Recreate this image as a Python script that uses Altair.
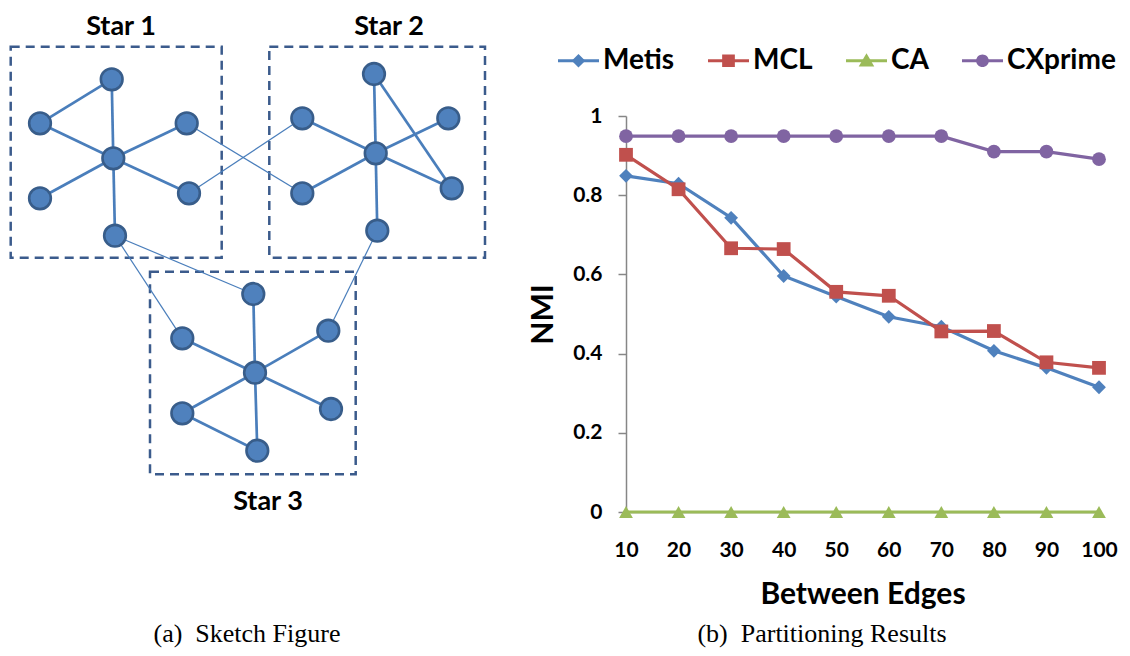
import altair as alt
import pandas as pd

# ---------------- chart (b) data ----------------
between_edges = [10, 20, 30, 40, 50, 60, 70, 80, 90, 100]
series_names = ["Metis", "MCL", "CA", "CXprime"]
metis = [0.849, 0.829, 0.743, 0.596, 0.544, 0.493, 0.468, 0.407, 0.364, 0.315]
mcl = [0.902, 0.815, 0.666, 0.664, 0.556, 0.546, 0.456, 0.457, 0.378, 0.364]
ca = [0, 0, 0, 0, 0, 0, 0, 0, 0, 0]
cxprime = [0.949, 0.949, 0.949, 0.949, 0.949, 0.949, 0.949, 0.910, 0.910, 0.891]
series_colors = ["#4F81BD", "#C0504D", "#9BBB59", "#8064A2"]
series_shapes = ["diamond", "square", "triangle-up", "circle"]
y_ticks = [0, 0.2, 0.4, 0.6, 0.8, 1]

# ---------------- sketch (a) data: graph layout (page pixels) ----------------
node_ids = ["A", "B", "C", "D", "E", "F", "G",
            "H", "I", "J", "K", "L", "M", "N",
            "O", "P", "Q", "R", "S", "T", "U"]
node_x = [111.7, 40.0, 113.3, 186.7, 40.0, 189.0, 115.0,
          374.0, 302.3, 375.7, 448.3, 302.3, 451.7, 377.3,
          253.3, 182.3, 255.0, 328.3, 182.3, 331.0, 257.3]
node_y = [79.3, 123.3, 158.3, 123.3, 198.3, 193.3, 235.7,
          74.0, 118.3, 153.3, 118.3, 193.3, 188.3, 230.7,
          294.0, 338.3, 372.7, 330.7, 413.3, 409.0, 450.7]
edge_from = ["B", "B", "A", "C", "C", "C", "C",
             "H", "H", "I", "J", "J", "J", "J",
             "O", "P", "Q", "Q", "Q", "Q", "S",
             "D", "F", "G", "G", "N"]
edge_to = ["A", "C", "C", "D", "E", "F", "G",
           "J", "M", "J", "K", "L", "M", "N",
           "Q", "Q", "R", "S", "T", "U", "U",
           "L", "I", "O", "P", "R"]
edge_kind = ["intra"] * 21 + ["between"] * 5
box_x0 = [10.7, 269.3, 150.0]
box_x1 = [221.7, 485.0, 355.7]
box_y0 = [46.7, 46.7, 271.7]
box_y1 = [257.7, 257.7, 474.3]
star_labels = ["Star 1", "Star 2", "Star 3"]
star_label_x = [121, 389, 268]
star_label_y = [35, 35, 510]
captions = ["(a)\u2002Sketch Figure", "(b)\u2002Partitioning Results"]
caption_x = [247, 822]
caption_y = [642, 642]

# ---------------- layout ----------------
PAGE_W, PAGE_H = 1130, 656
LEFT, TOP = 626, 116          # page position of the plot origin
W, H = 473, 396               # plot area
MARGIN = 8
TOTAL_W, TOTAL_H = 1114, 640
pad = {"left": LEFT - MARGIN, "top": TOP - MARGIN,
       "right": TOTAL_W - (LEFT - MARGIN) - W,
       "bottom": TOTAL_H - (TOP - MARGIN) - H}

BOLD = "Lato"

# ---------------- line chart ----------------
df = pd.DataFrame({
    "edges": between_edges * 4,
    "series": sum([[s] * len(between_edges) for s in series_names], []),
    "nmi": metis + mcl + ca + cxprime,
})

x_enc = alt.X("edges:Q",
              scale=alt.Scale(domain=[10, 100], nice=False, zero=False),
              axis=alt.Axis(values=between_edges, format="d", title="Between Edges",
                            grid=False, ticks=False, domainColor="#868686", domainWidth=1.5,
                            labelFont=BOLD, labelFontSize=21, labelFontWeight="bold",
                            labelColor="#000000", labelPadding=27, labelAngle=0,
                            labelFlush=False, labelOverlap=False, labelBound=False,
                            titleFont=BOLD, titleFontSize=30, titleFontWeight="bold",
                            titleColor="#000000", titleX=W / 2, titleY=91,
                            titleBaseline="alphabetic", titleAlign="center"))
y_enc = alt.Y("nmi:Q",
              scale=alt.Scale(domain=[0, 1], nice=False),
              axis=alt.Axis(values=y_ticks, format="~g", title="NMI", grid=False,
                            domainColor="#868686", domainWidth=1.5,
                            tickColor="#868686", tickWidth=1.5, tickSize=8,
                            labelFont=BOLD, labelFontSize=21, labelFontWeight="bold",
                            labelColor="#000000", labelPadding=16,
                            labelFlush=False, labelOverlap=False,
                            titleFont=BOLD, titleFontSize=30, titleFontWeight="bold",
                            titleColor="#000000", titleAngle=270, titleX=-74, titleY=198,
                            titleBaseline="alphabetic", titleAlign="center"))
color_enc = alt.Color("series:N", scale=alt.Scale(domain=series_names, range=series_colors),
                      legend=None)
shape_enc = alt.Shape("series:N", scale=alt.Scale(domain=series_names, range=series_shapes),
                      legend=None)

base = alt.Chart(df).encode(x=x_enc, y=y_enc, color=color_enc)
series_layers = []
for s in series_names:
    f = base.transform_filter(alt.datum.series == s)
    series_layers.append(f.mark_line(strokeWidth=3.2))
    series_layers.append(f.mark_point(filled=True, opacity=1, size=190).encode(shape=shape_enc))
chart_group = alt.layer(*series_layers)

# ---------------- legend: a line legend under a marker legend ----------------
line_part = "M-1,0H1"
marker_paths = [
    line_part + "M0,-0.33L0.33,0L0,0.33L-0.33,0Z",
    line_part + "M-0.31,-0.31H0.31V0.31H-0.31Z",
    line_part + "M0,-0.36L0.38,0.28L-0.38,0.28Z",
    line_part + "M0.31,0A0.31,0.31,0,1,1,-0.31,0A0.31,0.31,0,1,1,0.31,0Z",
]
common = dict(title=None, orient="none", direction="horizontal",
              legendX=-70, legendY=-78, padding=0,
              symbolSize=1681, symbolStrokeWidth=3.2, symbolOpacity=1,
              labelFont=BOLD, labelFontSize=28, labelFontWeight="bold",
              labelColor="#000000", labelOffset=2, columnPadding=26)
leg_lines = alt.Legend(symbolType=line_part, labelOpacity=0,
                       labelExpr="trim(datum.label)", **common)
leg_marks = alt.Legend(symbolStrokeColor="transparent", **common)

line_keys = [s + " " for s in series_names]   # distinct domain keeps the two legends apart
legend_lines_df = pd.DataFrame({"key": line_keys})
legend_marks_df = pd.DataFrame({"series": series_names})

legend_lines = alt.Chart(legend_lines_df).transform_filter("false").mark_line(
    strokeWidth=3.2).encode(
    color=alt.Color("key:N", scale=alt.Scale(domain=line_keys, range=series_colors),
                    legend=leg_lines))
legend_marks = alt.Chart(legend_marks_df).transform_filter("false").mark_point(
    filled=True, opacity=1).encode(
    color=alt.Color("series:N", scale=alt.Scale(domain=series_names, range=series_colors),
                    legend=leg_marks),
    shape=alt.Shape("series:N", scale=alt.Scale(domain=series_names, range=marker_paths),
                    legend=leg_marks))

# ---------------- sketch diagram ----------------
sx = alt.Scale(domain=[0, PAGE_W], range=[-LEFT, PAGE_W - LEFT], nice=False, zero=False)
sy = alt.Scale(domain=[0, PAGE_H], range=[-TOP, PAGE_H - TOP], nice=False, zero=False)

nodes = pd.DataFrame({"id": node_ids, "x": node_x, "y": node_y})
pos = nodes.set_index("id")
edges = pd.DataFrame({
    "x1": [pos.loc[a, "x"] for a in edge_from],
    "y1": [pos.loc[a, "y"] for a in edge_from],
    "x2": [pos.loc[b, "x"] for b in edge_to],
    "y2": [pos.loc[b, "y"] for b in edge_to],
    "kind": edge_kind,
})
boxes = pd.DataFrame({"x0": box_x0, "x1": box_x1, "y0": box_y0, "y1": box_y1})
labels = pd.DataFrame({"t": star_labels, "x": star_label_x, "y": star_label_y})
caps = pd.DataFrame({"t": captions, "x": caption_x, "y": caption_y})

EDGE_C = "#4A7EBB"
box_layer = alt.Chart(boxes).mark_rect(fillOpacity=0, stroke="#3B5B8C", strokeWidth=2.5,
                                       strokeDash=[9, 6]).encode(
    x=alt.X("x0:Q", scale=sx, axis=None), x2="x1:Q",
    y=alt.Y("y0:Q", scale=sy, axis=None), y2="y1:Q")
edge_base = alt.Chart(edges).encode(
    x=alt.X("x1:Q", scale=sx, axis=None), x2="x2:Q",
    y=alt.Y("y1:Q", scale=sy, axis=None), y2="y2:Q")
intra_layer = edge_base.transform_filter(alt.datum.kind == "intra").mark_rule(
    color=EDGE_C, strokeWidth=2.7)
between_layer = edge_base.transform_filter(alt.datum.kind == "between").mark_rule(
    color=EDGE_C, strokeWidth=1.2)
node_layer = alt.Chart(nodes).mark_point(shape="circle", filled=True, fill="#4F81BD",
                                         stroke="#385D8A", strokeWidth=2.6, size=470,
                                         opacity=1, fillOpacity=1, strokeOpacity=1).encode(
    x=alt.X("x:Q", scale=sx, axis=None), y=alt.Y("y:Q", scale=sy, axis=None))
label_layer = alt.Chart(labels).mark_text(font=BOLD, fontWeight="bold", fontSize=27,
                                          color="#000000", align="center",
                                          baseline="alphabetic").encode(
    x=alt.X("x:Q", scale=sx, axis=None), y=alt.Y("y:Q", scale=sy, axis=None), text="t:N")
caption_layer = alt.Chart(caps).mark_text(font="Liberation Serif", fontSize=26,
                                          color="#000000", align="center",
                                          baseline="alphabetic").encode(
    x=alt.X("x:Q", scale=sx, axis=None), y=alt.Y("y:Q", scale=sy, axis=None), text="t:N")
diagram_group = alt.layer(box_layer, intra_layer, between_layer, node_layer,
                          label_layer, caption_layer)

chart = alt.layer(chart_group, legend_lines, legend_marks, diagram_group).resolve_scale(
    x="independent", y="independent", shape="independent", color="independent"
).properties(
    width=W, height=H,
    autosize=alt.AutoSizeParams(type="none"),
    padding=pad,
    background="white",
).configure_view(stroke=None)

chart.save("out.html", embed_options={"renderer": "svg", "actions": False})
